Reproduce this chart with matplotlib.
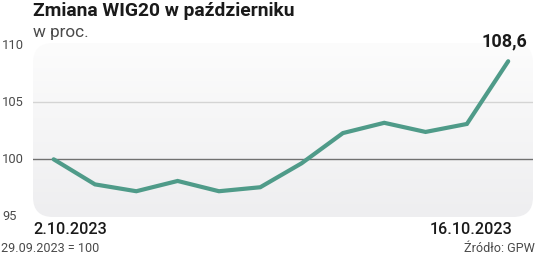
import numpy as np
import matplotlib
matplotlib.use("Agg")
import matplotlib.pyplot as plt
from matplotlib.patches import FancyBboxPatch

# Data
values = [100.0, 97.8, 97.2, 98.1, 97.2, 97.55, 99.65, 102.3, 103.2, 102.4, 103.1, 108.6]
yticks = [95, 100, 105, 110]
first_label = "2.10.2023"
last_label = "16.10.2023"
last_value_label = "108,6"

plt.rcParams['font.family'] = ['Roboto', 'DejaVu Sans']

fig = plt.figure(figsize=(5.36, 2.56), dpi=100)
ax = fig.add_axes([33 / 536, 39 / 256, 500 / 536, 174 / 256])
ax.set_xlim(-0.5, 11.6)
ax.set_ylim(94.94, 110.2)
for s in ax.spines.values():
    s.set_visible(False)
ax.patch.set_visible(False)

# Rounded gradient background
bg = FancyBboxPatch((0, 0), 1, 1, boxstyle="round,pad=0,rounding_size=0.04",
                    transform=ax.transAxes, facecolor="none", edgecolor="none",
                    mutation_aspect=500 / 174)
ax.add_patch(bg)
grad = np.linspace(1, 0, 256).reshape(-1, 1)
img = ax.imshow(grad, extent=[-0.5, 11.6, 94.94, 110.2], aspect="auto",
                cmap=matplotlib.colors.LinearSegmentedColormap.from_list(
                    "g", ["#eeeef0", "#fcfcfc"]), zorder=0)
img.set_clip_path(bg)

ax.axhline(105, color="#d4d4d4", lw=1, zorder=1)
ax.axhline(100, color="#707070", lw=1, zorder=1)

x = np.arange(len(values))
ax.plot(x, values, color="#4f9b89", lw=3.0, solid_capstyle="round",
        solid_joinstyle="miter", zorder=3)

ax.set_xticks([])
ax.set_yticks([])
for t in yticks:
    fig.text(2 / 536, ax.transData.transform((0, t))[1] / 256, str(t),
             ha="left", va="center", fontsize=9.3, color="#4a4a4a")

ax.annotate(last_value_label, (x[-1], values[-1]), xytext=(-3, 8),
            textcoords="offset points", ha="center", va="bottom",
            fontsize=13, fontweight="bold", color="#1a1a1a")

fig.text(33 / 536, 1 - 11 / 256, "Zmiana WIG20 w październiku", ha="left",
         va="center", fontsize=13.9, fontweight="bold", color="#1a1a1a")
fig.text(33 / 536, 1 - 33 / 256, "w proc.", ha="left", va="center",
         fontsize=12.3, color="#4a4a4a")

fig.text(33 / 536, 1 - 229 / 256, first_label, ha="left", va="center",
         fontsize=11.6, fontweight="medium", color="#1a1a1a")
fig.text(512 / 536, 1 - 229 / 256, last_label, ha="right", va="center",
         fontsize=11.6, fontweight="medium", color="#1a1a1a")
fig.text(1 / 536, 1 - 248 / 256, "29.09.2023 = 100", ha="left", va="center",
         fontsize=9.1, color="#4a4a4a")
fig.text(535 / 536, 1 - 248 / 256, "Źródło: GPW", ha="right", va="center",
         fontsize=9.1, color="#4a4a4a")

fig.savefig("out.png", dpi=100)
